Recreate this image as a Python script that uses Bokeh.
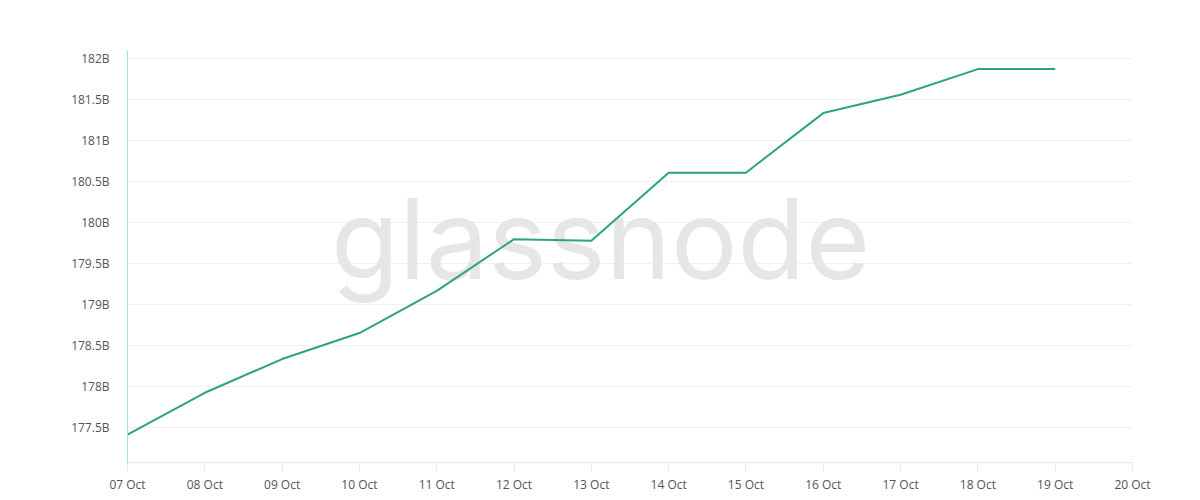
from bokeh.plotting import figure
from bokeh.models import Range1d, FixedTicker, CustomJSTickFormatter, Label
from bokeh.embed import file_html
from bokeh.resources import INLINE

# ---- data ----
dates = ["07 Oct", "08 Oct", "09 Oct", "10 Oct", "11 Oct", "12 Oct", "13 Oct",
         "14 Oct", "15 Oct", "16 Oct", "17 Oct", "18 Oct", "19 Oct"]
supply_b = [177.418, 177.927, 178.338, 178.655, 179.17, 179.80, 179.78,
            180.61, 180.61, 181.337, 181.56, 181.873, 181.873]
x_tick_labels = ["07 Oct", "08 Oct", "09 Oct", "10 Oct", "11 Oct", "12 Oct", "13 Oct",
                 "14 Oct", "15 Oct", "16 Oct", "17 Oct", "18 Oct", "19 Oct", "20 Oct"]
y_tick_values = [177.5, 178.0, 178.5, 179.0, 179.5, 180.0, 180.5, 181.0, 181.5, 182.0]
watermark = "glassnode"

x_idx = list(range(len(dates)))
x_ticks = list(range(len(x_tick_labels)))

p = figure(width=1200, height=500, output_backend="svg", toolbar_location=None,
           x_range=Range1d(0, len(x_tick_labels) - 1), y_range=Range1d(177.077, 182.10),
           min_border_left=127, min_border_right=68, min_border_top=50, min_border_bottom=38)
p.outline_line_color = None
p.background_fill_color = "white"
p.border_fill_color = "white"

# watermark
wm = Label(x=6.12, y=179.81, text=watermark,
           text_align="center", text_baseline="middle", text_font="Inter",
           text_font_size="111px", text_color="#e6e6e6",
           level="underlay")
p.add_layout(wm)

p.line(x_idx, supply_b, line_color="#2ea47a", line_width=2)

# x axis
xa = p.xaxis[0]
xa.ticker = FixedTicker(ticks=x_ticks)
xa.major_label_overrides = {i: lab for i, lab in zip(x_ticks, x_tick_labels)}
xa.axis_line_color = "#e8e8e8"
xa.major_tick_line_color = "#e8e8e8"
xa.major_tick_out = 9
xa.major_tick_in = 0
xa.minor_tick_line_color = None
xa.major_label_text_font = "Open Sans"
xa.major_label_text_font_size = "12px"
xa.major_label_text_color = "#555555"
xa.major_label_standoff = 4

# y axis
ya = p.yaxis[0]
ya.ticker = FixedTicker(ticks=y_tick_values)
ya.formatter = CustomJSTickFormatter(code="return tick + 'B';")
ya.axis_line_color = "#a6e3cc"
ya.major_tick_line_color = None
ya.minor_tick_line_color = None
ya.major_label_text_font = "Open Sans"
ya.major_label_text_font_size = "12px"
ya.major_label_text_color = "#555555"
ya.major_label_standoff = 12

p.xgrid.grid_line_color = None
p.ygrid.grid_line_color = "#f0f0f0"
p.ygrid.ticker = FixedTicker(ticks=y_tick_values)

open("out.html", "w").write(file_html(p, INLINE))
